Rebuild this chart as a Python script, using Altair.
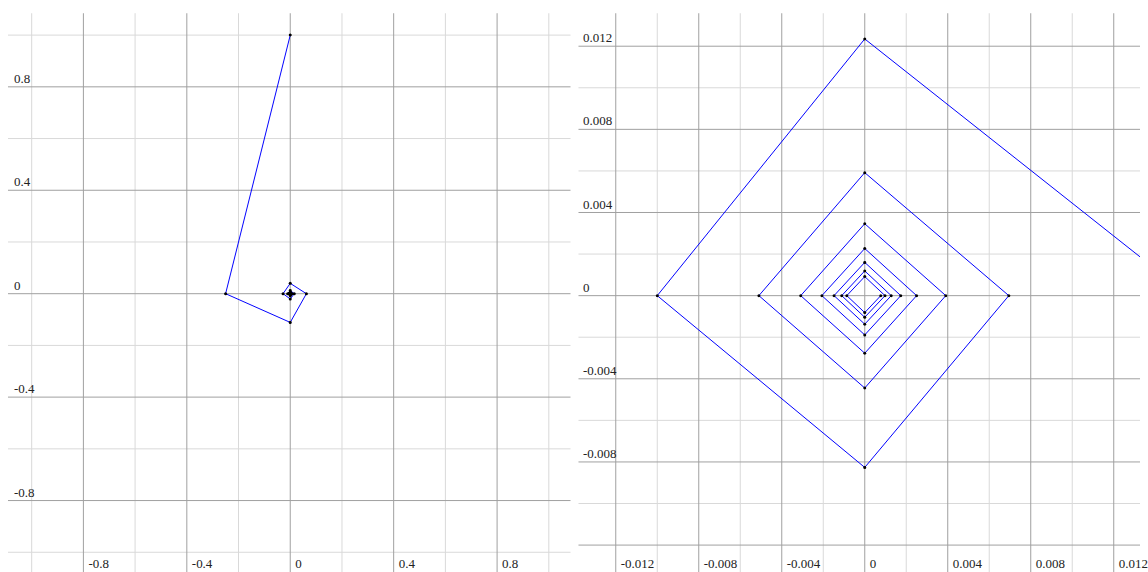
import altair as alt
import pandas as pd

# Spiral vertices: each step lands on one of the axes, turning a quarter each time
step = list(range(1, 37))
px = [0, -0.25, 0, 0.0625, 0, -0.02778, 0, 0.01563, 0, -0.01, 0, 0.006944,
      0, -0.005102, 0, 0.003906, 0, -0.003086, 0, 0.0025, 0, -0.002066, 0, 0.001736,
      0, -0.001479, 0, 0.001276, 0, -0.001111, 0, 0.000977, 0, -0.000865, 0, 0.000772]
py = [1, 0, -0.1111, 0, 0.04, 0, -0.02041, 0, 0.01235, 0, -0.008264, 0,
      0.005917, 0, -0.004444, 0, 0.00346, 0, -0.00277, 0, 0.002268, 0, -0.00189, 0,
      0.0016, 0, -0.001372, 0, 0.001189, 0, -0.001041, 0, 0.000918, 0, -0.000816, 0]

# The close-up traces the tail of the spiral, from this step on
near_first_step = 8

# Overview panel grid and labels
wide_major = [-0.8, -0.4, 0, 0.4, 0.8]
wide_minor = [-1.0, -0.6, -0.2, 0.2, 0.6, 1.0]
wide_xlabels = ["-0.8", "-0.4", "0", "0.4", "0.8"]
wide_ylabels = ["0.8", "0.4", "0", "-0.4", "-0.8"]
wide_yticks = [0.8, 0.4, 0, -0.4, -0.8]

# Close-up panel grid and labels
near_major = [-0.012, -0.008, -0.004, 0, 0.004, 0.008, 0.012]
near_minor = [-0.01, -0.006, -0.002, 0.002, 0.006, 0.01]
near_xlabels = ["-0.012", "-0.008", "-0.004", "0", "0.004", "0.008", "0.012"]
near_ylabels = ["0.012", "0.008", "0.004", "0", "-0.004", "-0.008"]
near_yticks = [0.012, 0.008, 0.004, 0, -0.004, -0.008]

MAJOR = "#a0a0a0"
MINOR = "#d9d9d9"
FONT = "Liberation Serif"

path = pd.DataFrame({"step": step, "x": px, "y": py})


def panel(data, xdom, ydom, major, minor, xlabels, ylabels, yticks, w, h, ylab_x):
    xs = alt.Scale(domain=xdom, nice=False, zero=False)
    ys = alt.Scale(domain=ydom, nice=False, zero=False)

    def vrules(vals, color):
        return alt.Chart(pd.DataFrame({"v": vals})).mark_rule(
            color=color, strokeWidth=1
        ).encode(x=alt.X("v:Q", scale=xs, axis=None))

    def hrules(vals, color):
        return alt.Chart(pd.DataFrame({"v": vals})).mark_rule(
            color=color, strokeWidth=1
        ).encode(y=alt.Y("v:Q", scale=ys, axis=None))

    line = alt.Chart(data).mark_line(color="#0000ff", strokeWidth=1, clip=True).encode(
        x=alt.X("x:Q", scale=xs, axis=None),
        y=alt.Y("y:Q", scale=ys, axis=None),
        order="step:Q",
    )
    dots = alt.Chart(data).mark_circle(size=9, color="#000000", opacity=1, clip=True).encode(
        x=alt.X("x:Q", scale=xs, axis=None),
        y=alt.Y("y:Q", scale=ys, axis=None),
    )
    xtext = alt.Chart(pd.DataFrame({"v": major, "t": xlabels})).mark_text(
        align="left", baseline="alphabetic", dx=5, font=FONT, fontSize=13, color="#222222"
    ).encode(
        x=alt.X("v:Q", scale=xs, axis=None),
        y=alt.value(h - 4.5),
        text="t:N",
    )
    ytext = alt.Chart(pd.DataFrame({"v": yticks, "t": ylabels})).mark_text(
        align="left", baseline="alphabetic", dy=-4, font=FONT, fontSize=13, color="#222222"
    ).encode(
        y=alt.Y("v:Q", scale=ys, axis=None),
        x=alt.value(ylab_x),
        text="t:N",
    )
    return alt.layer(
        vrules(minor, MINOR), hrules(minor, MINOR),
        vrules(major, MAJOR), hrules(major, MAJOR),
        line, dots, xtext, ytext,
    ).properties(width=w, height=h)


left = panel(path, [-1.0916, 1.0839], [-1.0792, 1.0846], wide_major, wide_minor,
             wide_xlabels, wide_ylabels, wide_yticks, 563, 560, 6)
right = panel(path[path["step"] >= near_first_step], [-0.013796, 0.013266], [-0.013331, 0.013586],
              near_major, near_minor, near_xlabels, near_ylabels, near_yticks, 562, 560, 4.5)

chart = alt.hconcat(left, right, spacing=6).properties(
    padding={"left": 7, "top": 12, "right": 0, "bottom": 0}
).configure_view(strokeWidth=0)

chart.save("out.html", embed_options={"renderer": "svg", "actions": False})
